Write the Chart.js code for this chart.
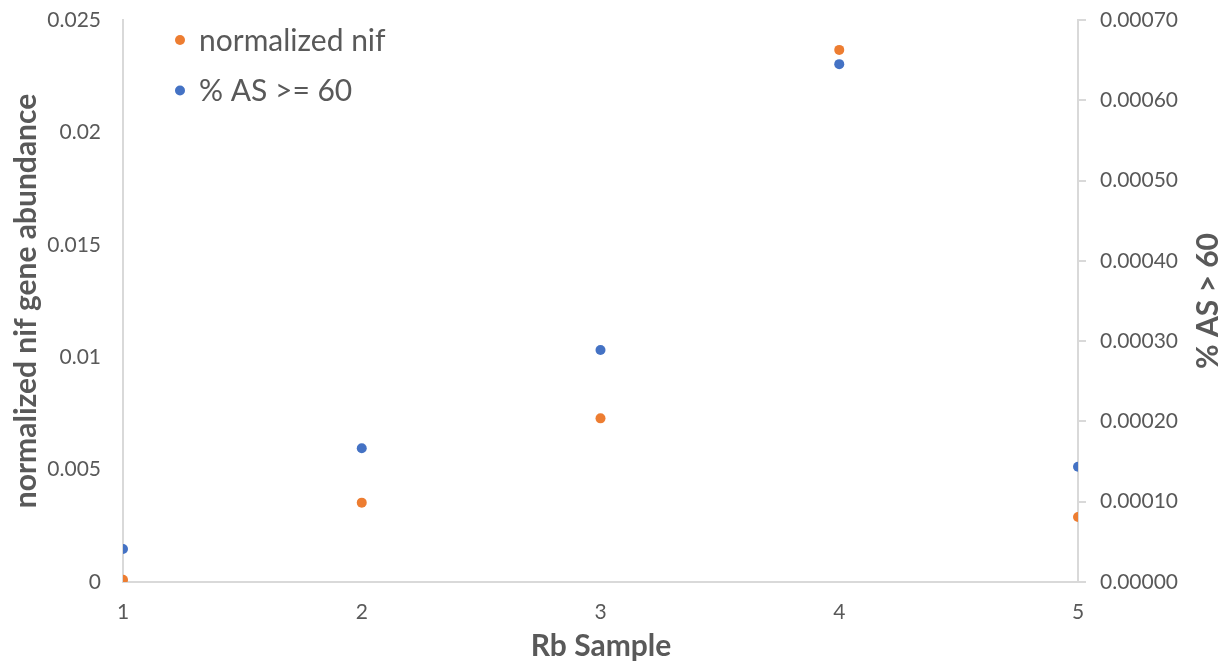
<!DOCTYPE html>
<html>
<head>
<meta charset="utf-8">
<title>nif gene abundance</title>
<script src="https://cdn.jsdelivr.net/npm/chart.js@4/dist/chart.umd.min.js"></script>
<style>
  html, body { margin: 0; padding: 0; background: #fff; }
  #wrap { width: 1232px; height: 671px; }
</style>
</head>
<body>
<div id="wrap"><canvas id="nifChart" width="1232" height="671"></canvas></div>
<script>
// Rb samples and the two measured series
var samples = [1, 2, 3, 4, 5];
var normalizedNif = [0.0001, 0.00353, 0.00728, 0.02367, 0.00289];
var pctAS60 = [0.000041, 0.0001665, 0.000289, 0.000645, 0.0001436];

var leftTicks = [0, 0.005, 0.01, 0.015, 0.02, 0.025];
var rightTicks = [0, 0.0001, 0.0002, 0.0003, 0.0004, 0.0005, 0.0006, 0.0007];

var FONT = 'Lato, "Open Sans", sans-serif';
var GREY = '#595959';
var AXIS = '#d9d9d9';
var ORANGE = '#ED7D31';
var BLUE = '#4472C4';

function toPoints(ys) {
    return samples.map(function (x, i) { return { x: x, y: ys[i] }; });
}

// fixed width for the value axes, no extra room for label overhang
function fitSide(width) {
    return function (s) {
        s.width = width;
        s.paddingTop = 0;
        s.paddingBottom = 0;
    };
}

// Axis titles and the in-plot legend
var decorations = {
    id: 'decorations',
    afterDraw: function (chart) {
        var ctx = chart.ctx;
        var area = chart.chartArea;
        var midY = (area.top + area.bottom) / 2;
        ctx.save();
        ctx.fillStyle = GREY;
        ctx.font = 'bold 30px ' + FONT;
        ctx.textAlign = 'center';
        ctx.textBaseline = 'middle';
        ctx.fillText('Rb Sample', 601, 646);

        ctx.save();
        ctx.translate(26, midY);
        ctx.rotate(-Math.PI / 2);
        ctx.fillText('normalized nif gene abundance', 0, 0);
        ctx.restore();

        ctx.save();
        ctx.translate(1208, midY);
        ctx.rotate(-Math.PI / 2);
        ctx.fillText('% AS > 60', 0, 0);
        ctx.restore();

        // legend entries
        ctx.font = '30px ' + FONT;
        ctx.textAlign = 'left';
        chart.data.datasets.forEach(function (ds, i) {
            var y = 40 + i * 50.5;
            ctx.fillStyle = ds.backgroundColor;
            ctx.beginPath();
            ctx.arc(180, y, 5, 0, Math.PI * 2);
            ctx.fill();
            ctx.fillStyle = GREY;
            ctx.fillText(ds.label, 199, y + 1);
        });
        ctx.restore();
    }
};

var ctx = document.getElementById('nifChart').getContext('2d');
var nifChart = new Chart(ctx, {
    type: 'scatter',
    data: {
        datasets: [{
            label: 'normalized nif',
            data: toPoints(normalizedNif),
            yAxisID: 'y',
            backgroundColor: ORANGE,
            borderColor: ORANGE,
            pointRadius: 5,
            pointBorderWidth: 0
        }, {
            label: '% AS >= 60',
            data: toPoints(pctAS60),
            yAxisID: 'y1',
            backgroundColor: BLUE,
            borderColor: BLUE,
            pointRadius: 5,
            pointBorderWidth: 0
        }]
    },
    options: {
        responsive: false,
        animation: false,
        layout: { padding: { top: 20, right: 0, bottom: 0, left: 0 } },
        plugins: {
            legend: { display: false },
            tooltip: { enabled: false }
        },
        scales: {
            x: {
                type: 'linear',
                min: 1,
                max: 5,
                afterFit: function (s) {
                    s.height = 89;
                    s.paddingLeft = 0;
                    s.paddingRight = 0;
                },
                afterBuildTicks: function (s) {
                    s.ticks = samples.map(function (v) { return { value: v }; });
                },
                grid: { drawOnChartArea: false, drawTicks: false },
                border: { display: true, color: AXIS, width: 2 },
                ticks: {
                    padding: 18,
                    color: GREY,
                    font: { family: FONT, size: 21 }
                }
            },
            y: {
                position: 'left',
                min: 0,
                max: 0.025,
                afterFit: fitSide(123),
                afterBuildTicks: function (s) {
                    s.ticks = leftTicks.map(function (v) { return { value: v }; });
                },
                grid: { drawOnChartArea: false, drawTicks: false },
                border: { display: true, color: AXIS, width: 2 },
                ticks: {
                    padding: 22,
                    color: GREY,
                    font: { family: FONT, size: 21 },
                    callback: function (v) { return String(+v.toFixed(3)); }
                }
            },
            y1: {
                position: 'right',
                min: 0,
                max: 0.0007,
                afterFit: fitSide(154),
                afterBuildTicks: function (s) {
                    s.ticks = rightTicks.map(function (v) { return { value: v }; });
                },
                grid: { drawOnChartArea: false, drawTicks: true, tickLength: 8, color: AXIS, lineWidth: 2 },
                border: { display: true, color: AXIS, width: 2 },
                ticks: {
                    padding: 14,
                    color: GREY,
                    font: { family: FONT, size: 21 },
                    callback: function (v) { return v.toFixed(5); }
                }
            }
        }
    },
    plugins: [decorations]
});
</script>
</body>
</html>
